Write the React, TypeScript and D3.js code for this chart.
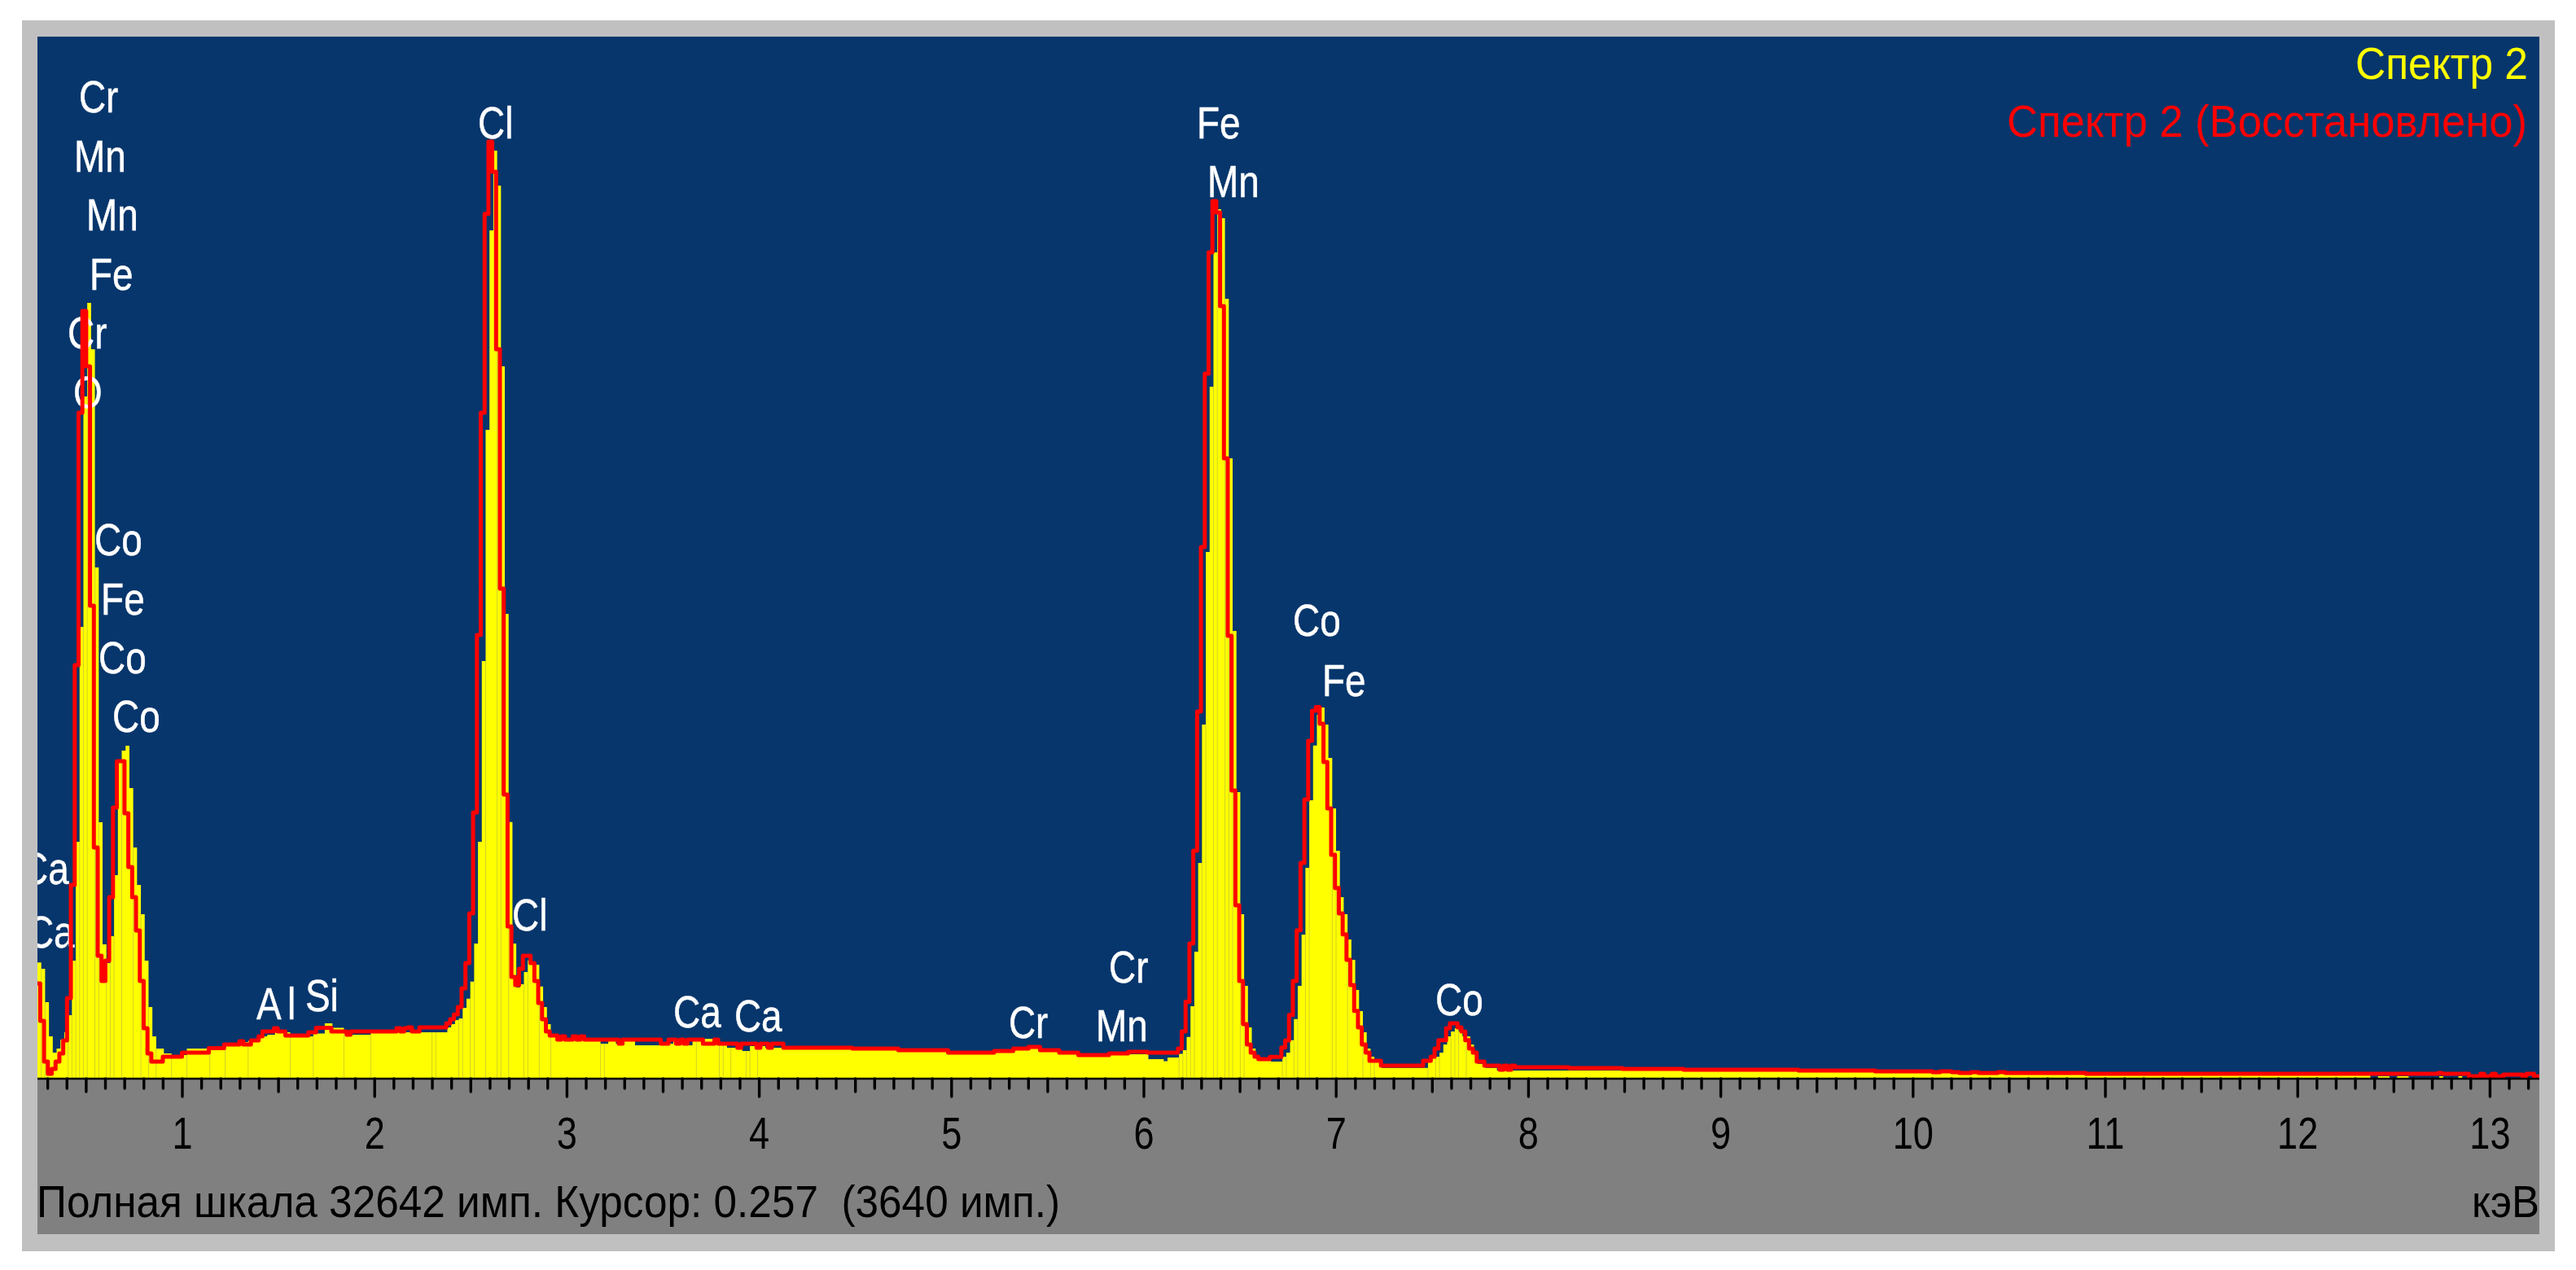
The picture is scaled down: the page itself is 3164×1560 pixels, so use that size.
import * as d3 from "d3";

// [channel, counts]: each value holds until the next listed channel
type Step = [number, number];

const W = 3164;
const H = 1560;
const fullScale = 32642;
const firstKeV = 0.2464;
const lastKeV = 13.2566;
const keVPerChannel = 0.01992;
const redShiftKeV = -0.0055;
const lastChannel = 656;

const yellowLow: Step[] = [
  [0, 3640], [1, 3443], [2, 2397], [3, 1326], [4, 816], [5, 944], [6, 1224], [7, 1454], [8, 1989], [9, 3698],
  [10, 7421], [11, 14153], [12, 21369], [13, 24302], [14, 22848], [15, 16014], [16, 8033], [17, 4208], [18, 3621], [19, 4463],
  [20, 6375], [21, 9945], [22, 10277], [23, 10430], [24, 9104], [25, 7242], [26, 6069], [27, 5151], [28, 3698], [29, 2244],
  [30, 1326], [31, 944], [33, 791], [35, 740], [39, 944], [45, 1002], [49, 1097], [53, 1148], [55, 1183], [58, 1326],
  [60, 1377], [62, 1505], [63, 1454], [66, 1326], [72, 1413], [75, 1734], [77, 1594], [80, 1454], [82, 1377], [87, 1454],
];
const yellowCl: Step[] = [
  [107, 1606], [108, 1708], [109, 1836], [110, 1887], [111, 2219], [112, 2507], [113, 3042], [114, 4233], [115, 7420], [116, 13081],
  [117, 20323], [118, 26571], [119, 29070], [120, 27974], [121, 22312], [122, 14560], [123, 8042], [124, 4233], [125, 2856], [126, 2958],
  [127, 3340], [128, 3707], [129, 3672], [130, 3570], [131, 2889], [132, 2244], [133, 1708], [134, 1402], [135, 1352], [136, 1249],
];
const yellowMid: Step[] = [
  [145, 1224], [147, 1097], [149, 1224], [151, 1097], [153, 1224], [156, 1046], [163, 1097], [166, 1173], [170, 1046], [171, 1250],
  [177, 1097], [180, 969], [184, 867], [186, 1020], [190, 969], [195, 945], [203, 969], [213, 918], [225, 867], [238, 816],
  [250, 842], [255, 918], [259, 969], [262, 867], [267, 790], [272, 714], [280, 765], [285, 765], [290, 612],
];
const yellowFe: Step[] = [
  [294, 546], [295, 663], [298, 775], [299, 892], [300, 1308], [301, 2270], [302, 3978], [303, 6758], [304, 11093], [305, 16499],
  [306, 21675], [307, 25883], [308, 27234], [309, 26954], [310, 24429], [311, 19431], [312, 14025], [313, 8976], [314, 5151], [315, 2907],
  [316, 1607], [317, 944], [318, 714], [319, 640], [322, 536], [325, 689], [326, 816], [327, 1206], [328, 1869], [329, 2907],
  [330, 4513], [331, 6605], [332, 8721], [333, 10437], [334, 11398], [335, 11628], [336, 11093], [337, 10047], [338, 8466], [339, 7140],
  [340, 5687], [341, 5151], [342, 4360], [343, 3723], [344, 2780], [345, 2116], [346, 1454], [347, 944], [348, 689], [349, 536],
];
const yellowTail: Step[] = [
  [351, 340], [363, 536], [364, 689], [366, 816], [367, 1071], [368, 1326], [369, 1479], [370, 1581], [371, 1479], [372, 1326],
  [374, 1071], [375, 816], [376, 467], [378, 340], [381, 255], [430, 230], [460, 204], [495, 178], [520, 153], [560, 128],
  [609, 25], [611, 76], [614, 25], [616, 76], [619, 25], [627, 76], [628, 25], [632, 76], [633, 25],
];

const redLow: Step[] = [
  [0, 2984], [1, 1811], [2, 536], [3, 153], [4, 306], [5, 536], [6, 791], [7, 1199], [8, 2525], [9, 6069],
  [10, 12954], [11, 20859], [12, 24047], [13, 22313], [14, 14816], [15, 7242], [16, 3851], [17, 3060], [18, 3698], [19, 5687],
  [20, 8492], [21, 9945], [23, 8313], [24, 6630], [25, 5687], [26, 4641], [27, 3060], [28, 1581], [29, 791], [30, 536],
  [33, 689], [38, 816], [45, 956], [49, 1071], [53, 1173], [54, 1071], [56, 1199], [58, 1326], [59, 1479], [62, 1581],
  [63, 1479], [65, 1352], [71, 1454], [73, 1594], [77, 1479], [81, 1377], [82, 1479], [94, 1581], [95, 1479], [96, 1581],
  [97, 1606], [98, 1479], [100, 1606],
];
const redCl: Step[] = [
  [107, 1734], [108, 1862], [109, 2015], [110, 2244], [111, 2831], [112, 3621], [113, 5177], [114, 8339], [115, 13898], [116, 20859],
  [117, 27088], [118, 29351], [119, 28407], [120, 22848], [121, 15351], [122, 8900], [123, 4769], [124, 3188], [125, 2933], [126, 3443],
  [127, 3851], [129, 3621], [130, 3060], [131, 2372], [132, 1862], [133, 1479], [134, 1352], [136, 1224], [137, 1326], [138, 1224],
  [140, 1326], [141, 1224], [142, 1326], [143, 1224],
];
const redMid: Step[] = [
  [152, 1097], [153, 1224], [163, 1097], [165, 1224], [167, 1097], [168, 1224], [169, 1097], [170, 1224], [174, 1097], [177, 1224],
  [178, 1097], [183, 969], [184, 1097], [188, 969], [189, 1097], [191, 969], [192, 1097], [195, 969], [213, 943], [225, 892],
  [238, 816], [250, 867], [255, 943], [259, 994], [262, 892], [267, 816], [272, 739], [280, 790], [285, 841], [290, 816],
];
const redFe: Step[] = [
  [298, 943], [299, 1479], [300, 2407], [301, 4233], [302, 7140], [303, 11500], [304, 16651], [305, 22083], [306, 25883], [307, 27489],
  [308, 27132], [309, 24200], [310, 19431], [311, 13872], [312, 9027], [313, 5431], [314, 3060], [315, 1708], [316, 1071], [317, 816],
  [318, 689], [319, 612], [322, 682], [325, 976], [326, 1199], [327, 1997], [328, 3060], [329, 4650], [330, 6758], [331, 8747],
  [332, 10583], [333, 11526], [334, 11644], [335, 11118], [336, 9920], [337, 8466], [338, 7013], [339, 5975], [340, 5177], [341, 4521],
  [342, 3723], [343, 2933], [344, 2124], [345, 1607], [346, 1071], [347, 816], [348, 561],
];
const redTail: Step[] = [
  [351, 408], [362, 561], [364, 689], [365, 944], [366, 1206], [368, 1581], [369, 1734], [371, 1607], [372, 1479], [373, 1206],
  [374, 944], [375, 816], [376, 536], [378, 408], [382, 281], [383, 408], [384, 281], [385, 408], [386, 357], [400, 331],
  [414, 306], [430, 281], [460, 255], [480, 230], [495, 204], [497, 230], [500, 204], [502, 178], [505, 204], [507, 178],
  [512, 204], [514, 178], [535, 153], [627, 179], [628, 153], [635, 76], [638, 153], [639, 76], [641, 153], [642, 76],
  [644, 128], [649, 76], [650, 153], [652, 76],
];

// channels where the yellow bars show a thin seam
const seamChannels = [
  1, 2, 8, 9, 10, 11, 12, 13, 15, 16, 18, 19, 20, 22, 25, 27, 29, 31, 35, 39, 45, 49, 55, 66, 72, 80, 87,
  103, 104, 110, 111, 113, 114, 117, 120, 121, 123, 127, 128, 131, 134, 147, 148, 172, 178, 179, 181, 185, 186, 188,
  298, 299, 300, 301, 302, 304, 305, 307, 308, 310, 311, 312, 314, 315,
  325, 326, 328, 329, 331, 332, 338, 339, 342, 346, 348, 349, 363, 365, 366, 369, 370, 371, 373,
];

const tickKeV = d3.range(3, 133).map((d) => d / 10);
const tickLabels = d3.range(1, 14);

const peakLabels: [string, number, number][] = [
  ["Cr", 0.462, 30268], ["Mn", 0.437, 28407], ["Mn", 0.5, 26571], ["Fe", 0.517, 24710], ["Cr", 0.403, 22874],
  ["O", 0.433, 21012], ["Co", 0.543, 16397], ["Fe", 0.577, 14535], ["Co", 0.564, 12699], ["Co", 0.636, 10863],
  ["Ca", 0.162, 6095], ["Ca", 0.191, 4106], ["Al", 1.385, 1862], ["Si", 1.639, 2117], ["Cl", 2.537, 29453],
  ["Cl", 2.715, 4641], ["Ca", 3.553, 1607], ["Ca", 3.87, 1479], ["Cr", 5.297, 1275], ["Mn", 5.75, 1173],
  ["Cr", 5.818, 3009], ["Fe", 6.275, 29453], ["Mn", 6.33, 27617], ["Co", 6.775, 13872], ["Fe", 6.927, 11985],
  ["Co", 7.516, 1989],
];

const yellow = [...yellowLow, ...yellowCl, ...yellowMid, ...yellowFe, ...yellowTail];
const red = [...redLow, ...redCl, ...redMid, ...redFe, ...redTail];

const plot = { left: 46, right: 3119, top: 45, axis: 1325, bottom: 1516 };
const textScale = "scale(0.82,1)";
const fontFamily = '"Liberation Sans", Arial, sans-serif';

const x = d3.scaleLinear().domain([firstKeV, lastKeV]).range([plot.left, plot.right]);
const y = d3.scaleLinear().domain([0, fullScale]).range([plot.axis, plot.top]);
const channelKeV = (c: number) => firstKeV + c * keVPerChannel;

function closeSteps(steps: Step[]): Step[] {
  return [...steps, [lastChannel, steps[steps.length - 1][1]]];
}

const yellowArea = d3
  .area<Step>()
  .x((d) => x(channelKeV(d[0])))
  .y0(y(0))
  .y1((d) => y(d[1]))
  .curve(d3.curveStepAfter);

const redLine = d3
  .line<Step>()
  .x((d) => x(channelKeV(d[0]) + redShiftKeV))
  .y((d) => y(d[1]))
  .curve(d3.curveStepAfter);

function countsAt(c: number) {
  const i = d3.bisectRight(yellow.map((d) => d[0]), c) - 1;
  return yellow[Math.max(i, 0)][1];
}

export default function App() {
  return (
    <svg
      width={W}
      height={H}
      viewBox={`0 0 ${W} ${H}`}
      style={{ position: "absolute", left: 0, top: 0, display: "block", background: "#fff" }}
      fontFamily={fontFamily}
    >
      <defs>
        <clipPath id="plot-clip">
          <rect x={plot.left} y={plot.top} width={plot.right - plot.left} height={plot.axis - plot.top} />
        </clipPath>
      </defs>

      <rect x={27} y={25} width={3111} height={1512} fill="#c0c0c0" />
      <rect x={plot.left} y={plot.top} width={plot.right - plot.left} height={plot.axis - plot.top} fill="#07366c" />
      <rect x={plot.left} y={plot.axis} width={plot.right - plot.left} height={plot.bottom - plot.axis} fill="#808080" />

      <g clipPath="url(#plot-clip)">
        <path d={yellowArea(closeSteps(yellow)) ?? ""} fill="#ffff00" />
        {seamChannels.map((c) => (
          <line
            key={c}
            x1={x(channelKeV(c))}
            x2={x(channelKeV(c))}
            y1={y(0)}
            y2={y(Math.min(countsAt(c), countsAt(c - 1)))}
            stroke="#d2d228"
            strokeWidth={1}
          />
        ))}
        {peakLabels.map(([t, k, c], i) => (
          <text
            key={i}
            transform={`translate(${x(k)},${y(c)}) ${textScale}`}
            fontSize={56}
            fill="#fff"
            stroke="#fff"
            strokeWidth={0.5}
            letterSpacing={t === "Al" ? 9 : 0}
          >
            {t}
          </text>
        ))}
        <path
          d={redLine(closeSteps(red)) ?? ""}
          fill="none"
          stroke="#ff0000"
          strokeWidth={5}
          strokeLinejoin="round"
          strokeLinecap="round"
        />
      </g>

      <line x1={plot.left} x2={plot.right} y1={plot.axis} y2={plot.axis} stroke="#000" strokeWidth={2.5} />
      {tickKeV.map((t) => {
        const tenth = Math.round(t * 10);
        const len = tenth % 10 === 0 ? 22 : tenth % 5 === 0 ? 16 : 12;
        return (
          <line
            key={tenth}
            x1={x(t)}
            x2={x(t)}
            y1={plot.axis}
            y2={plot.axis + len}
            stroke="#000"
            strokeWidth={3.4}
            strokeLinecap="round"
          />
        );
      })}
      {tickLabels.map((t) => (
        <text
          key={t}
          transform={`translate(${x(t)},1411) ${textScale}`}
          textAnchor="middle"
          fontSize={55}
          fill="#000"
        >
          {t}
        </text>
      ))}

      <text
        x={45}
        y={1495}
        fontSize={55}
        fill="#000"
        textLength={1257}
        lengthAdjust="spacingAndGlyphs"
        style={{ whiteSpace: "pre" }}
      >
        {"Полная шкала 32642 имп. Курсор: 0.257  (3640 имп.)"}
      </text>
      <text x={3036} y={1495} fontSize={55} fill="#000" textLength={83} lengthAdjust="spacingAndGlyphs">
        кэВ
      </text>

      <text x={2893} y={97} fontSize={56} fill="#ffff00" textLength={212} lengthAdjust="spacingAndGlyphs">
        Спектр 2
      </text>
      <text x={2465} y={168} fontSize={56} fill="#ff0000" textLength={639} lengthAdjust="spacingAndGlyphs">
        Спектр 2 (Восстановлено)
      </text>
    </svg>
  );
}
